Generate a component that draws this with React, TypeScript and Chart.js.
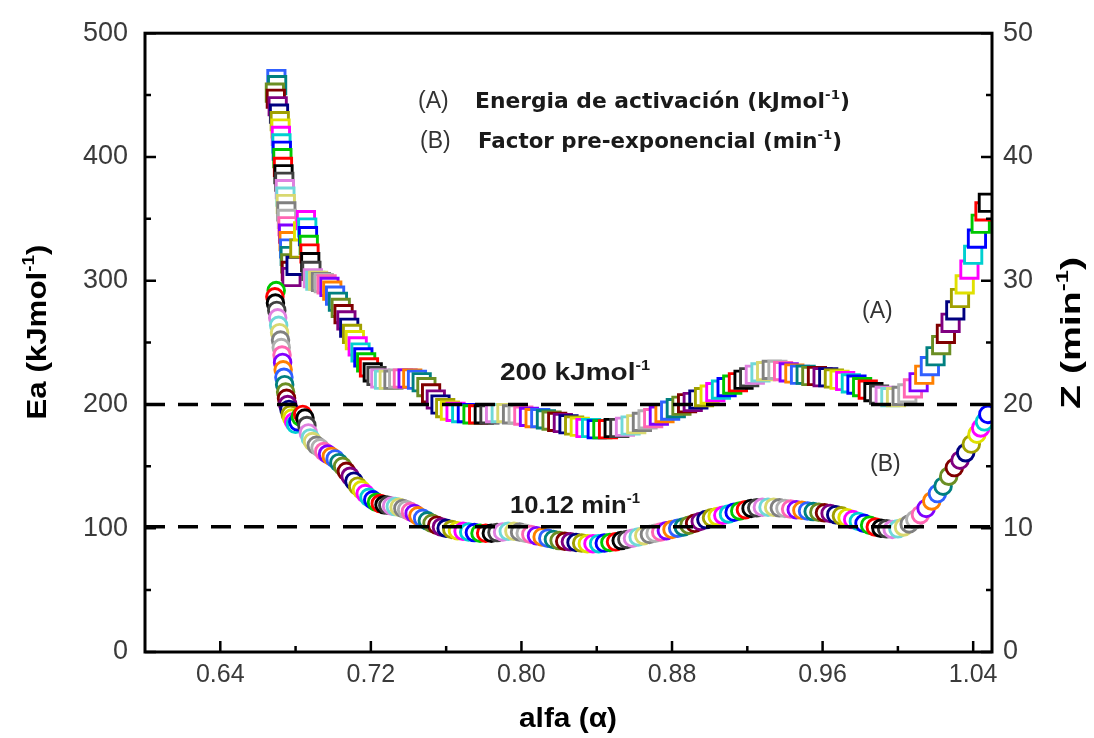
import React, { useEffect, useRef } from 'react';
import { Chart, registerables } from 'chart.js';

Chart.register(...registerables);

// ---- data ----
const alfaA = [
  0.6698, 0.6702, 0.6690, 0.6695, 0.6705, 0.6712, 0.6716, 0.6720, 0.6722, 0.6725,
  0.6727, 0.6730, 0.6733, 0.6736, 0.6740, 0.6743, 0.6746, 0.6748, 0.6751, 0.6754,
  0.6757, 0.6760, 0.6763, 0.6766, 0.6769, 0.6772, 0.6775, 0.6778, 0.6800, 0.6820,
  0.6840, 0.6855, 0.6862, 0.6866, 0.6870, 0.6874, 0.6878, 0.6884, 0.6892, 0.6905,
  0.6920, 0.6935, 0.6950, 0.6965, 0.6980, 0.6995, 0.7010, 0.7025, 0.7040, 0.7055,
  0.7070, 0.7085, 0.7100, 0.7115, 0.7130, 0.7145, 0.7160, 0.7175, 0.7190, 0.7210,
  0.7230, 0.7250, 0.7270, 0.7295, 0.7320, 0.7345, 0.7370, 0.7395, 0.7420, 0.7445,
  0.7470, 0.7495, 0.7520, 0.7545, 0.7570, 0.7595, 0.7620, 0.7650, 0.7680, 0.7710,
  0.7740, 0.7770, 0.7800, 0.7830, 0.7860, 0.7890, 0.7920, 0.7950, 0.7980, 0.8010,
  0.8040, 0.8070, 0.8100, 0.8130, 0.8160, 0.8190, 0.8220, 0.8250, 0.8280, 0.8310,
  0.8340, 0.8370, 0.8400, 0.8430, 0.8460, 0.8490, 0.8520, 0.8550, 0.8580, 0.8610,
  0.8640, 0.8670, 0.8700, 0.8730, 0.8760, 0.8790, 0.8820, 0.8850, 0.8880, 0.8910,
  0.8940, 0.8970, 0.9000, 0.9030, 0.9060, 0.9090, 0.9120, 0.9150, 0.9180, 0.9210,
  0.9240, 0.9270, 0.9300, 0.9330, 0.9360, 0.9390, 0.9420, 0.9450, 0.9480, 0.9510,
  0.9540, 0.9570, 0.9600, 0.9630, 0.9660, 0.9690, 0.9720, 0.9750, 0.9780, 0.9810,
  0.9840, 0.9870, 0.9900, 0.9930, 0.9960, 0.9990, 1.0020, 1.0050, 1.0080, 1.0110,
  1.0140, 1.0170, 1.0200, 1.0230, 1.0255, 1.0280, 1.0305, 1.0330, 1.0355, 1.0380,
  1.0400, 1.0420, 1.0440, 1.0460, 1.0478,
];
const eaA = [
  463, 458, 452, 447, 441, 435, 429, 423, 417, 411,
  405, 399, 392, 386, 380, 374, 368, 362, 356, 350,
  344, 338, 332, 326, 320, 314, 308, 303, 312, 326,
  340, 349, 343, 336, 329, 322, 315, 308, 302, 300,
  300, 299, 298, 297, 295, 292, 288, 283, 278, 273,
  268, 262, 257, 252, 247, 242, 238, 234, 230, 226,
  223, 221, 220, 220, 220, 221, 221, 221, 221, 220,
  218, 214, 209, 204, 200, 197, 195, 194, 193, 193,
  192, 192, 192, 192, 193, 193, 193, 192, 192, 191,
  190, 189, 189, 188, 187, 186, 185, 184, 183, 182,
  181, 181, 180, 180, 180, 181, 181, 182, 183, 184,
  186, 188, 189, 191, 193, 195, 197, 199, 201, 202,
  204, 206, 208, 210, 212, 214, 216, 218, 220, 222,
  224, 226, 227, 228, 228, 227, 226, 225, 224, 224,
  223, 223, 222, 222, 221, 220, 219, 217, 216, 214,
  212, 210, 208, 207, 206, 206, 207, 209, 213, 218,
  224, 231, 239, 248, 257, 266, 276, 286, 297, 309,
  321, 334, 346, 356, 363,
];
const alfaB = [
  0.6697, 0.6690, 0.6693, 0.6700, 0.6705, 0.6710, 0.6715, 0.6720, 0.6724, 0.6728,
  0.6731, 0.6734, 0.6738, 0.6742, 0.6747, 0.6752, 0.6758, 0.6765, 0.6772, 0.6780,
  0.6790, 0.6800, 0.6812, 0.6825, 0.6838, 0.6850, 0.6860, 0.6868, 0.6878, 0.6890,
  0.6910, 0.6930, 0.6950, 0.6970, 0.6990, 0.7010, 0.7030, 0.7050, 0.7070, 0.7090,
  0.7110, 0.7130, 0.7150, 0.7170, 0.7190, 0.7210, 0.7230, 0.7250, 0.7270, 0.7290,
  0.7310, 0.7330, 0.7350, 0.7370, 0.7390, 0.7410, 0.7430, 0.7450, 0.7475, 0.7500,
  0.7525, 0.7550, 0.7575, 0.7600, 0.7630, 0.7660, 0.7690, 0.7720, 0.7750, 0.7780,
  0.7810, 0.7840, 0.7870, 0.7900, 0.7930, 0.7960, 0.7990, 0.8020, 0.8050, 0.8080,
  0.8110, 0.8140, 0.8170, 0.8200, 0.8230, 0.8260, 0.8290, 0.8320, 0.8350, 0.8380,
  0.8410, 0.8440, 0.8470, 0.8500, 0.8530, 0.8560, 0.8590, 0.8620, 0.8650, 0.8680,
  0.8710, 0.8740, 0.8770, 0.8800, 0.8830, 0.8860, 0.8890, 0.8920, 0.8950, 0.8980,
  0.9010, 0.9040, 0.9070, 0.9100, 0.9130, 0.9160, 0.9190, 0.9220, 0.9250, 0.9280,
  0.9310, 0.9340, 0.9370, 0.9400, 0.9430, 0.9460, 0.9490, 0.9520, 0.9550, 0.9580,
  0.9610, 0.9640, 0.9670, 0.9700, 0.9730, 0.9760, 0.9790, 0.9820, 0.9850, 0.9880,
  0.9910, 0.9940, 0.9970, 1.0000, 1.0030, 1.0060, 1.0090, 1.0120, 1.0150, 1.0180,
  1.0210, 1.0240, 1.0270, 1.0300, 1.0330, 1.0360, 1.0390, 1.0420, 1.0440, 1.0460,
  1.0478,
];
const zB = [
  29.2, 28.7, 28.2, 27.6, 27.0, 26.4, 25.8, 25.2, 24.6, 24.0,
  23.4, 22.8, 22.2, 21.6, 21.0, 20.5, 20.0, 19.6, 19.2, 18.9,
  18.6, 18.4, 18.6, 19.0, 19.2, 18.9, 18.3, 17.7, 17.3, 17.0,
  16.7, 16.5, 16.2, 16.0, 15.8, 15.6, 15.3, 15.0, 14.6, 14.2,
  13.8, 13.4, 13.1, 12.8, 12.5, 12.3, 12.1, 12.0, 11.9, 11.85,
  11.8, 11.75, 11.7, 11.6, 11.5, 11.35, 11.2, 11.0, 10.8, 10.6,
  10.4, 10.25, 10.1, 10.0, 9.9, 9.8, 9.75, 9.7, 9.65, 9.6,
  9.6, 9.6, 9.65, 9.7, 9.75, 9.75, 9.7, 9.6, 9.5, 9.4,
  9.3, 9.2, 9.1, 9.0, 8.95, 8.9, 8.85, 8.8, 8.75, 8.75,
  8.75, 8.8, 8.85, 8.9, 9.0, 9.1, 9.2, 9.3, 9.4, 9.5,
  9.6, 9.7, 9.8, 9.9, 10.0, 10.1, 10.25, 10.4, 10.55, 10.7,
  10.85, 10.95, 11.05, 11.15, 11.3, 11.4, 11.5, 11.6, 11.65, 11.7,
  11.7, 11.7, 11.65, 11.6, 11.55, 11.5, 11.45, 11.4, 11.35, 11.3,
  11.25, 11.2, 11.1, 11.0, 10.85, 10.7, 10.55, 10.4, 10.25, 10.1,
  10.0, 9.95, 9.9, 9.95, 10.1, 10.35, 10.7, 11.1, 11.6, 12.2,
  12.8, 13.4, 14.2, 14.9, 15.5, 16.1, 16.8, 17.6, 18.1, 18.6,
  19.2,
];

const xRange = [0.6, 1.05];
const xTicks = [0.64, 0.72, 0.8, 0.88, 0.96, 1.04];
const xMinor = [0.68, 0.76, 0.84, 0.92, 1.0];
const eaTicks = [0, 100, 200, 300, 400, 500];
const eaMinor = [50, 150, 250, 350, 450];
const zTicks = [0, 10, 20, 30, 40, 50];
const zMinor = [5, 15, 25, 35, 45];
const refEa = 200;
const refZ = 10.12;

const palette = [
  '#000000', '#ff0000', '#00c800', '#0000ff', '#00d0d0', '#ff00ff', '#e0e000', '#a0a000',
  '#000080', '#800080', '#800000', '#6b8e23', '#008080', '#3060ff', '#ff8000', '#8000ff',
  '#ff66b3', '#b0b0b0', '#808080', '#d8d870', '#70d8d8', '#e080e0', '#404040',
];

type Part = [string, boolean];

function drawRich(
  ctx: CanvasRenderingContext2D,
  parts: Part[],
  x: number,
  y: number,
  o: { size: number; family: string; weight?: string; color?: string; width?: number; align?: string; rotate?: number }
) {
  const weight = o.weight ?? 'bold';
  const supSize = Math.round(o.size * 0.6);
  const fMain = `${weight} ${o.size}px ${o.family}`;
  const fSup = `${weight} ${supSize}px ${o.family}`;
  let total = 0;
  const ws = parts.map(([t, sup]) => {
    ctx.font = sup ? fSup : fMain;
    const w = ctx.measureText(t).width;
    total += w;
    return w;
  });
  const sx = o.width ? o.width / total : 1;
  ctx.save();
  ctx.translate(x, y);
  if (o.rotate) ctx.rotate(o.rotate);
  if (o.align === 'center') ctx.translate((-total * sx) / 2, 0);
  ctx.scale(sx, 1);
  ctx.fillStyle = o.color ?? '#000';
  ctx.textAlign = 'left';
  ctx.textBaseline = 'alphabetic';
  let cx = 0;
  parts.forEach(([t, sup], i) => {
    ctx.font = sup ? fSup : fMain;
    ctx.fillText(t, cx, sup ? -o.size * 0.42 : 0);
    cx += ws[i];
  });
  ctx.restore();
}

const framePlugin = {
  id: 'frameTicksTexts',
  afterDatasetsDraw(chart: any) {
    const { ctx, chartArea: a, scales } = chart;
    const sx = scales.x, sy = scales.y, sz = scales.y1;
    ctx.save();
    ctx.strokeStyle = '#000';
    ctx.lineWidth = 3;
    ctx.strokeRect(a.left, a.top, a.right - a.left, a.bottom - a.top);
    ctx.lineWidth = 2.5;
    ctx.beginPath();
    const tick = (x1: number, y1: number, x2: number, y2: number) => {
      ctx.moveTo(x1, y1);
      ctx.lineTo(x2, y2);
    };
    xTicks.forEach((v) => { const p = sx.getPixelForValue(v); tick(p, a.bottom, p, a.bottom - 11); });
    xMinor.forEach((v) => { const p = sx.getPixelForValue(v); tick(p, a.bottom, p, a.bottom - 6); });
    eaTicks.forEach((v) => { const p = sy.getPixelForValue(v); tick(a.left, p, a.left + 11, p); });
    eaMinor.forEach((v) => { const p = sy.getPixelForValue(v); tick(a.left, p, a.left + 6, p); });
    zTicks.forEach((v) => { const p = sz.getPixelForValue(v); tick(a.right, p, a.right - 11, p); });
    zMinor.forEach((v) => { const p = sz.getPixelForValue(v); tick(a.right, p, a.right - 6, p); });
    ctx.stroke();
    ctx.restore();

    const sans = '"Liberation Sans", Arial, sans-serif';
    const deja = '"DejaVu Sans", sans-serif';
    // legend block
    drawRich(ctx, [['(A)', false]], 418, 108, { size: 23, family: sans, weight: 'normal', color: '#333' });
    drawRich(ctx, [['Energia de activación (kJmol', false], ['-1', true], [')', false]], 475, 108,
      { size: 21, family: deja, color: '#1a1a1a', width: 375 });
    drawRich(ctx, [['(B)', false]], 420, 148, { size: 23, family: sans, weight: 'normal', color: '#333' });
    drawRich(ctx, [['Factor pre-exponencial (min', false], ['-1', true], [')', false]], 478, 148,
      { size: 21, family: deja, color: '#1a1a1a', width: 364 });
    // reference-line labels
    drawRich(ctx, [['200 kJmol', false], ['-1', true]], 500, 380, { size: 24, family: sans, color: '#1a1a1a', width: 150 });
    drawRich(ctx, [['10.12 min', false], ['-1', true]], 510, 513, { size: 24, family: sans, color: '#1a1a1a', width: 130 });
    // curve labels
    drawRich(ctx, [['(A)', false]], 862, 318, { size: 23, family: sans, weight: 'normal', color: '#333' });
    drawRich(ctx, [['(B)', false]], 870, 471, { size: 23, family: sans, weight: 'normal', color: '#333' });
    // axis titles
    drawRich(ctx, [['Ea (kJmol', false], ['-1', true], [')', false]], 46, 332,
      { size: 28, family: sans, color: '#000', width: 175, align: 'center', rotate: -Math.PI / 2 });
    drawRich(ctx, [['Z (min', false], ['-1', true], [')', false]], 1080, 333,
      { size: 28, family: sans, color: '#000', width: 152, align: 'center', rotate: -Math.PI / 2 });
    drawRich(ctx, [['alfa (α)', false]], 568, 727, { size: 27, family: sans, color: '#000', width: 98, align: 'center' });
  },
};

export default function App() {
  const ref = useRef<HTMLCanvasElement | null>(null);
  useEffect(() => {
    if (!ref.current) return;
    const colsA = alfaA.map((_, i) => palette[(alfaA.length - 1 - i) % palette.length]);
    const colsB = alfaB.map((_, i) => palette[(alfaB.length - 1 - i + 3) % palette.length]);
    const tickFont = { family: '"Liberation Sans", Arial, sans-serif', size: 27 };
    const chart = new Chart(ref.current, {
      type: 'scatter',
      data: {
        datasets: [
          {
            label: 'ref Ea',
            data: [{ x: xRange[0], y: refEa }, { x: xRange[1], y: refEa }],
            showLine: true,
            borderColor: '#000',
            borderWidth: 3.5,
            borderDash: [20, 13],
            pointRadius: 0,
            yAxisID: 'y',
            order: 0,
          },
          {
            label: 'ref Z',
            data: [{ x: xRange[0], y: refZ }, { x: xRange[1], y: refZ }],
            showLine: true,
            borderColor: '#000',
            borderWidth: 3.5,
            borderDash: [20, 13],
            pointRadius: 0,
            yAxisID: 'y1',
            order: 0,
          },
          {
            label: '(B) Factor pre-exponencial',
            data: alfaB.map((x, i) => ({ x, y: zB[i] })),
            yAxisID: 'y1',
            pointStyle: 'circle',
            pointRadius: 8.3,
            pointBorderWidth: 2.9,
            pointBorderColor: colsB,
            pointBackgroundColor: '#ffffff',
            order: 1,
          },
          {
            label: '(A) Energia de activación',
            data: alfaA.map((x, i) => ({ x, y: eaA[i] })),
            yAxisID: 'y',
            pointStyle: 'rect',
            pointRadius: 12.2,
            pointBorderWidth: 2.9,
            pointBorderColor: colsA,
            pointBackgroundColor: '#ffffff',
            order: 2,
          },
        ],
      } as any,
      options: {
        responsive: false,
        animation: false,
        layout: { padding: { top: 20, left: 0, right: 0, bottom: 0 }, autoPadding: false } as any,
        plugins: { legend: { display: false }, tooltip: { enabled: false } },
        events: [],
        scales: {
          x: {
            type: 'linear',
            position: 'bottom',
            min: xRange[0],
            max: xRange[1],
            afterBuildTicks: (s: any) => { s.ticks = xTicks.map((v) => ({ value: v })); },
            afterFit: (s: any) => { s.height = 86; },
            grid: { display: false, drawTicks: false, tickLength: 0 },
            border: { display: false },
            ticks: {
              callback: (v: any) => Number(v).toFixed(2),
              font: { ...tickFont, size: 25 },
              color: '#3a3a3a',
              padding: 8,
              maxRotation: 0,
              autoSkip: false,
            },
          },
          y: {
            type: 'linear',
            position: 'left',
            min: 0,
            max: 500,
            afterBuildTicks: (s: any) => { s.ticks = eaTicks.map((v) => ({ value: v })); },
            afterFit: (s: any) => { s.width = 145; },
            grid: { display: false, drawTicks: false, tickLength: 0 },
            border: { display: false },
            ticks: { font: tickFont, color: '#3a3a3a', padding: 17 },
          },
          y1: {
            type: 'linear',
            position: 'right',
            min: 0,
            max: 50,
            afterBuildTicks: (s: any) => { s.ticks = zTicks.map((v) => ({ value: v })); },
            afterFit: (s: any) => { s.width = 102; },
            grid: { display: false, drawTicks: false, tickLength: 0 },
            border: { display: false },
            ticks: { font: tickFont, color: '#3a3a3a', padding: 11 },
          },
        },
      } as any,
      plugins: [framePlugin],
    });
    return () => chart.destroy();
  }, []);

  return (
    <div style={{ position: 'absolute', left: 0, top: 0, width: 1094, height: 738, background: '#fff' }}>
      <canvas ref={ref} width={1094} height={738} style={{ display: 'block' }} />
    </div>
  );
}
